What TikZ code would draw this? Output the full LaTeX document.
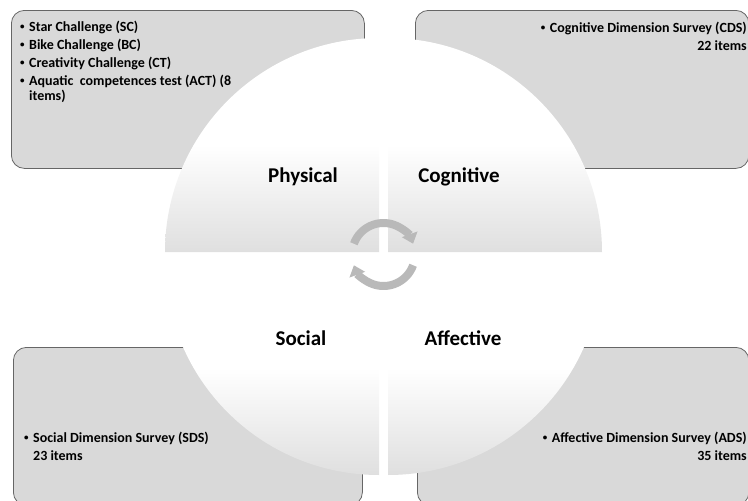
\documentclass[tikz,border=0pt]{standalone}
\usepackage{fontspec}
\setmainfont{Carlito}
\usetikzlibrary{arrows.meta, positioning}
\newcommand{\butir}{\raisebox{1.3pt}{\fontsize{9}{9}\selectfont\textbullet}\hspace{4.5pt}}

\begin{document}
\begin{tikzpicture}[
    x=1pt, y=1pt,
    font=\bfseries,
    kotak/.style={draw=black!60, line width=0.8pt, fill=gray!30, rounded corners=13pt,
                  minimum height=158pt, inner sep=0pt, anchor=north west},
    kuadran/.style={top color=white, bottom color=gray!25, middle color=white},
    dimensi/.style={font=\fontsize{21}{24}\selectfont\bfseries, inner sep=0pt},
    isi/.style={font=\fontsize{14}{15}\selectfont\bfseries, inner sep=0pt},
    putar/.style={-{Triangle[width=16pt, length=10pt]}, line width=8pt, draw=gray!55}
  ]
    \useasboundingbox (0,0) rectangle (748,-501);
    \clip (0,0) rectangle (748,-501);
    \node[kotak, minimum width=353pt] (kotakfisik) at (11,-10) {};
    \node[kotak, minimum width=333.5pt] (kotakkognitif) at (415,-10) {};
    \node[kotak, minimum width=349pt] (kotaksosial) at (13,-347) {};
    \node[kotak, minimum width=331.5pt] (kotakafektif) at (417,-347) {};
    \shade[kuadran] (379,-252) -- ++(-214,0) arc[start angle=180, end angle=90, radius=214] -- cycle;
    \shade[kuadran] (388,-252) -- ++(0,214) arc[start angle=90, end angle=0, radius=214] -- cycle;
    \shade[kuadran] (379,-261) -- ++(-214,0) arc[start angle=180, end angle=270, radius=214] -- cycle;
    \shade[kuadran] (388,-261) -- ++(0,-214) arc[start angle=270, end angle=360, radius=214] -- cycle;
    \node[dimensi] (fisik) at (303,-177) {Physical};
    \node[dimensi] (kognitif) at (459,-177) {Cognitive};
    \node[dimensi] (sosial) at (301,-338) {Social};
    \node[dimensi] (afektif) at (463,-338) {Affective};
    \node[isi, anchor=base west, align=left] (isifisik) at (20,-100)
      {\butir Star Challenge (SC)\\[3pt]
       \butir Bike Challenge (BC)\\[3pt]
       \butir Creativity Challenge (CT)\\[3pt]
       \butir Aquatic~ competences test (ACT) (8\\
       \phantom{\butir}items)};
    \node[isi, anchor=base east, align=right] (isikognitif) at (747,-50)
      {\butir Cognitive Dimension Survey (CDS)\\[3pt] 22 items};
    \node[isi, anchor=base west, align=left] (isisosial) at (24,-460)
      {\butir Social Dimension Survey (SDS)\\[3pt] \phantom{\butir}23 items};
    \node[isi, anchor=base east, align=right] (isiafektif) at (747,-460)
      {\butir Affective Dimension Survey (ADS)\\[3pt] 35 items};
    \coordinate (pusat) at (383.5,-254.5);
    \draw[putar] ([shift={(160:31.5)}]pusat) arc[start angle=160, end angle=20, radius=31.5];
    \draw[putar] ([shift={(340:31.5)}]pusat) arc[start angle=340, end angle=200, radius=31.5];
  \end{tikzpicture}
\end{document}
